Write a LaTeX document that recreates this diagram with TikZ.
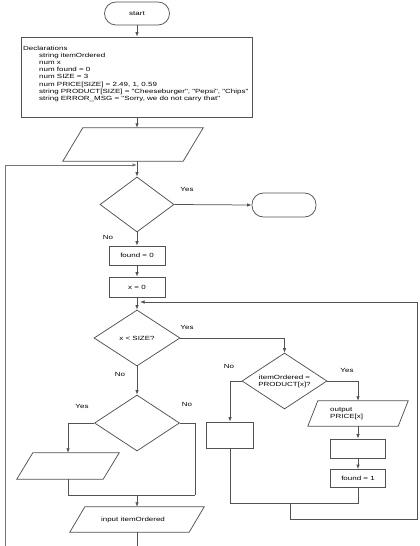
\documentclass[tikz,border=0pt]{standalone}
\usepackage{fontspec}
\usetikzlibrary{shapes.geometric,arrows.meta,calc}
\newfontfamily\arialx[FakeStretch=1.33]{Liberation Sans}
\newcommand\dfont{\arialx\fontsize{6pt}{7.1pt}\selectfont}
\definecolor{lc}{gray}{0.32}
\newcommand\parapath[2]{\draw[conn] ([xshift=#2]#1.north west) -- (#1.north east) -- ([xshift=-#2]#1.south east) -- (#1.south west) -- cycle;}
\begin{document}
\begin{tikzpicture}[x=1pt,y=-1pt,
  base/.style={draw=lc, line width=0.75pt, font=\dfont, inner sep=0pt},
  proc/.style={base, rectangle},
  term/.style={base, rectangle, rounded corners=11.5pt},
  dec/.style={base, diamond, aspect=1.5, align=center},
  io/.style={draw=none, font=\dfont, inner sep=0pt, align=center},
  txt/.style={font=\dfont, inner sep=0pt},
  lbl/.style={font=\dfont, inner sep=0pt},
  conn/.style={draw=lc, line width=0.75pt},
  arr/.style={conn, -{Latex[length=4.5pt,width=3.5pt]}}]
\useasboundingbox (0,0) rectangle (420,546);
\fill[white] (0,0) rectangle (420,546);

% nodes
\node[term, minimum width=65pt, minimum height=23pt] (start) at (137,13.5) {start};
\node[proc, minimum width=231pt, minimum height=80pt] (decl) at (137,77) {};
\node[txt, anchor=north west, align=left] (decltxt) at (23,46) {Declarations\\
\hspace*{16pt}string itemOrdered\\
\hspace*{16pt}num x\\
\hspace*{16pt}num found = 0\\
\hspace*{16pt}num SIZE = 3\\
\hspace*{16pt}num PRICE[SIZE] = 2.49, 1, 0.59\\
\hspace*{16pt}string PRODUCT[SIZE] = "Cheeseburger", "Pepsi", "Chips"\\
\hspace*{16pt}string ERROR\_MSG = "Sorry, we do not carry that"};
\node[io, minimum width=140pt, minimum height=33pt] (inp1) at (133,144.5) {};
\parapath{inp1}{20}
\coordinate (j1) at (137,165);
\node[dec, minimum width=74pt, minimum height=55pt] (d1) at (137,204.5) {};
\node[term, minimum width=64pt, minimum height=24pt] (stop) at (284,205) {};
\node[proc, minimum width=56pt, minimum height=19pt] (f0) at (137,255.5) {found = 0};
\node[proc, minimum width=56pt, minimum height=20pt] (x0) at (137,287) {x = 0};
\coordinate (j2) at (137,302);
\node[dec, minimum width=86pt, minimum height=56pt] (d2) at (137,338) {x < SIZE?};
\node[dec, minimum width=85pt, minimum height=56pt] (d3) at (284.5,381) {itemOrdered =\\PRODUCT[x]?};
\node[proc, minimum width=47pt, minimum height=26pt] (bl) at (230,435) {};
\node[io, minimum width=100pt, minimum height=25pt] (outp) at (358,413.5) {};
\parapath{outp}{10}
\node[txt, anchor=west, align=left] (outtxt) at (330,413.5) {output\\PRICE[x]};
\node[proc, minimum width=55pt, minimum height=19pt] (br) at (358,448.5) {};
\node[proc, minimum width=55pt, minimum height=18pt] (f1) at (358,478.5) {found = 1};
\node[dec, minimum width=85pt, minimum height=56pt] (d4) at (137,423) {};
\node[io, minimum width=102pt, minimum height=26pt] (inp2) at (68,466) {};
\parapath{inp2}{16}
\node[io, minimum width=134pt, minimum height=25pt] (inp3) at (137,519.5) {input itemOrdered\hspace*{8pt}};
\parapath{inp3}{15}

% labels
\node[lbl] (y1) at (187,189) {Yes};
\node[lbl] (n1) at (108,237) {No};
\node[lbl] (y2) at (187,327) {Yes};
\node[lbl] (n2) at (120,374) {No};
\node[lbl] (n3) at (229,366) {No};
\node[lbl] (y3) at (347,370) {Yes};
\node[lbl] (y4) at (82,406) {Yes};
\node[lbl] (n4) at (187,404) {No};

% connectors
\draw[arr] (start.south) -- (decl.north);
\draw[arr] (decl.south) -- (decl.south |- inp1.north);
\draw[conn] (decl.south |- inp1.south) -- (j1);
\coordinate (lb) at (5,546);
\draw[arr, line width=0.9pt, draw=lc!80] (lb) |- (j1);
\draw[arr] (j1) -- (d1.north);
\draw[arr] (d1.east) -- (stop.west);
\draw[arr] (d1.south) -- (f0.north);
\draw[arr] (f0.south) -- (x0.north);
\draw[conn] (x0.south) -- (j2);
\draw[arr] (j2) -- (d2.north);
\draw[arr] (d2.east) -| (d3.north);
\draw[arr] (d3.west) -| (bl.north);
\draw[arr] (d3.east) -| (outp.north);
\draw[arr] (outp.south) -- (br.north);
\draw[arr] (br.south) -- (f1.north);
\coordinate (m1) at (290,503);
\draw[conn] (f1.south) |- (bl.south |- m1) -- (bl.south);
\coordinate (rb) at (417,519);
\draw[arr] (m1) |- (rb) |- ([xshift=3pt]j2);
\draw[arr] (d2.south) -- (d4.north);
\draw[arr] (d4.west) -| (inp2.north);
\coordinate (m2) at (195,495);
\draw[conn] (d4.east) -| (m2);
\draw[conn] (inp2.south) |- (m2);
\draw[arr] (inp3.north |- m2) -- (inp3.north);
\coordinate (bb) at (137,546);
\draw[conn] (inp3.south) -- (bb);
\end{tikzpicture}
\end{document}
